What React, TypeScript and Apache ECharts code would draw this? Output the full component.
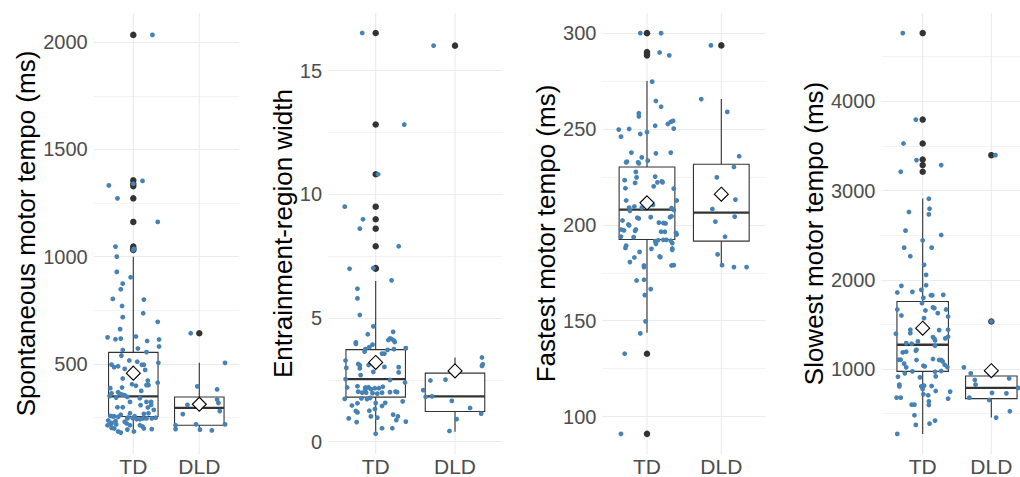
import React, { useEffect, useRef } from 'react';
import * as echarts from 'echarts';

// ---------- data ----------
const groups = ['TD', 'DLD'];
const yTitles = [
  'Spontaneous motor tempo (ms)',
  'Entrainment-region width',
  'Fastest motor tempo (ms)',
  'Slowest motor tempo (ms)',
];

// box stats per group: [lower whisker, Q1, median, Q3, upper whisker]
const smtBox = [[180, 255, 349, 554, 1000], [190, 214, 295, 346, 506]];
const erwBox = [[0.31, 1.8, 2.53, 3.72, 6.49], [0.4, 1.22, 1.83, 2.77, 3.4]];
const fmtBox = [[143.8, 192.4, 208.0, 230.2, 275.0], [178.0, 191.5, 206.4, 231.6, 265.6]];
const slmtBox = [[273, 974, 1272, 1757, 2912], [456, 668, 788, 922, 1019]];

// group means
const smtMean = [457, 312];
const erwMean = [3.2, 2.86];
const fmtMean = [211.5, 216.0];
const slmtMean = [1458, 981];

// outliers
const smtOutTD = [2034, 1356, 1340, 1329, 1272, 1162, 1047, 1037, 1031];
const smtOutDLD = [643];
const erwOutTD = [16.52, 12.82, 10.81, 9.5, 8.99, 8.61, 7.9, 7.02, 6.99];
const erwOutDLD = [16.01];
const fmtOutTD = [300, 290.1, 289.2, 288.4, 132.8, 91.0];
const fmtOutDLD = [293.6];
const slmtOutTD = [4764, 3795, 3527, 3348, 3285, 3210];
const slmtOutDLD = [3396, 1533];

// individual points: [horizontal jitter offset, value]
const smtTD = [
  [0.29, 2034], [-0.37, 1332], [0.14, 1353], [0.0, 1340], [-0.24, 1272], [0.37, 1162], [0.01, 1037], [0.0, 1031],
  [-0.27, 1047], [-0.25, 1000], [-0.25, 929], [-0.16, 874], [-0.19, 848], [-0.04, 904], [-0.31, 803], [0.16, 800],
  [-0.17, 770], [0.15, 736], [-0.16, 718], [0.37, 696], [-0.2, 662], [-0.39, 624], [-0.27, 615], [-0.19, 618],
  [0.04, 628], [0.21, 607], [0.39, 614], [0.39, 581], [-0.16, 565], [0.07, 572], [0.2, 555], [-0.18, 539],
  [-0.06, 516], [0.06, 510], [-0.33, 497], [-0.29, 485], [-0.23, 489], [-0.13, 477], [0.13, 496], [0.16, 496],
  [0.38, 505], [0.18, 472], [-0.16, 432], [0.22, 422], [-0.02, 405], [0.04, 398], [0.2, 401], [0.23, 401],
  [0.37, 412], [-0.35, 387], [-0.17, 390], [-0.33, 363], [-0.23, 368], [-0.2, 359], [-0.17, 357], [-0.13, 354],
  [0.12, 374], [-0.36, 350], [-0.26, 343], [-0.09, 346], [0.1, 340], [-0.05, 323], [0.2, 323], [0.27, 323],
  [0.27, 309], [-0.24, 298], [-0.16, 298], [0.11, 308], [0.22, 297], [0.31, 286], [0.16, 267], [0.23, 270],
  [-0.05, 270], [-0.29, 256], [-0.19, 263], [-0.35, 258], [-0.31, 255], [-0.23, 253], [0.02, 256], [-0.08, 250],
  [0.34, 249], [-0.38, 236], [-0.33, 225], [-0.27, 233], [-0.13, 230], [-0.09, 246], [-0.01, 247], [0.05, 242],
  [0.1, 242], [0.15, 246], [0.2, 246], [0.28, 246], [-0.39, 214], [-0.34, 218], [-0.26, 218], [-0.1, 222],
  [-0.05, 214], [0.1, 214], [0.14, 208], [-0.33, 202], [-0.29, 199], [-0.23, 185], [-0.19, 180], [-0.09, 194],
  [0.01, 185], [0.16, 199], [0.28, 196],
];
const smtDLD = [
  [-0.13, 643], [0.39, 505], [-0.03, 395], [0.27, 381], [-0.18, 309], [0.27, 334], [0.29, 318], [-0.25, 266],
  [0.31, 280], [-0.36, 214], [-0.36, 196], [-0.05, 218], [0.01, 194], [0.19, 190], [0.39, 218],
];

const erwTD = [
  [-0.17, 16.52], [0.36, 12.82], [0.03, 10.81], [-0.39, 9.5], [-0.16, 8.99], [-0.2, 8.61], [0.29, 7.9], [-0.33, 6.99],
  [-0.03, 7.02], [0.2, 6.52], [-0.23, 6.18], [-0.23, 5.79], [-0.2, 5.12], [-0.03, 4.66], [-0.1, 4.34], [0.22, 4.44],
  [0.18, 4.17], [0.2, 4.15], [0.23, 4.09], [0.16, 4.11], [0.24, 4.03], [-0.04, 3.92], [-0.25, 4.01], [-0.25, 3.95],
  [0.23, 3.74], [0.15, 3.71], [0.38, 3.78], [-0.13, 3.74], [-0.14, 3.64], [-0.08, 3.82], [0.08, 3.56], [0.11, 3.56],
  [-0.38, 3.28], [-0.37, 2.98], [-0.22, 3.14], [-0.2, 3.09], [-0.09, 3.1], [-0.2, 2.96], [0.03, 3.2], [0.11, 3.02],
  [0.29, 3.01], [0.29, 2.8], [-0.19, 2.69], [-0.03, 2.82], [-0.38, 2.53], [0.18, 2.49], [0.37, 2.39], [-0.36, 2.19],
  [-0.23, 2.24], [-0.13, 2.19], [-0.09, 2.2], [-0.13, 2.12], [-0.06, 2.12], [-0.01, 2.16], [0.04, 2.16], [0.09, 2.22],
  [-0.22, 2.02], [-0.17, 1.98], [-0.12, 1.98], [-0.04, 1.96], [0.08, 1.98], [0.18, 2.0], [0.25, 2.02], [0.27, 2.0],
  [-0.07, 1.77], [0.02, 1.94], [-0.39, 1.73], [-0.11, 1.72], [-0.18, 1.75], [-0.23, 1.55], [-0.3, 1.46], [0.12, 1.57],
  [0.0, 1.56], [-0.01, 1.32], [-0.25, 1.24], [-0.08, 1.25], [0.08, 1.44], [0.34, 1.63], [-0.23, 1.18], [-0.06, 1.02],
  [0.02, 0.97], [0.22, 1.09], [0.28, 1.02], [0.26, 0.87], [-0.34, 0.94], [-0.24, 0.79], [0.38, 0.81], [0.0, 0.32],
  [0.08, 0.54], [0.21, 0.54],
];
const erwDLD = [
  [-0.27, 16.01], [0.34, 3.4], [0.35, 3.13], [0.34, 3.06], [-0.31, 2.47], [-0.12, 2.51], [-0.4, 2.08], [-0.37, 1.81],
  [-0.29, 1.83], [-0.04, 1.65], [0.19, 1.36], [0.33, 1.13], [0.02, 0.91], [-0.07, 0.43],
];

const fmtTD = [
  [-0.09, 300], [0.19, 300], [0.17, 289.9], [0.3, 288.4], [0.07, 274.7], [0.11, 251.7], [0.12, 264.6], [0.19, 261.6],
  [-0.11, 258.2], [-0.11, 256.6], [-0.38, 249.7], [-0.24, 250.0], [-0.35, 246.0], [0.0, 248.4], [-0.09, 247.4],
  [0.28, 252.6], [0.32, 253.7], [0.35, 254.2], [0.36, 250.2], [-0.21, 237.7], [-0.27, 233.0], [-0.28, 232.6],
  [-0.12, 232.6], [-0.11, 232.1], [-0.07, 235.2], [0.01, 233.5], [0.12, 237.3], [0.32, 237.7], [-0.15, 227.6],
  [-0.14, 224.8], [0.11, 225.2], [0.14, 222.2], [0.2, 222.7], [0.21, 222.2], [-0.3, 223.3], [-0.29, 219.1],
  [-0.16, 221.9], [0.09, 220.1], [-0.28, 212.7], [0.36, 218.9], [0.4, 212.7], [-0.17, 209.6], [-0.07, 209.0],
  [0.02, 209.7], [0.08, 210.4], [-0.24, 209.0], [-0.23, 207.3], [0.33, 208.7], [0.36, 207.8], [-0.13, 203.7],
  [-0.11, 203.3], [0.05, 204.0], [-0.33, 202.3], [0.16, 201.2], [0.22, 201.0], [0.25, 200.7], [0.31, 204.0],
  [0.33, 204.5], [-0.25, 200.2], [-0.24, 199.7], [-0.35, 197.6], [-0.31, 197.1], [-0.15, 197.6], [-0.16, 196.9],
  [0.19, 196.4], [0.24, 196.4], [0.39, 195.8], [0.4, 195.0], [-0.35, 193.9], [-0.18, 193.6], [0.11, 191.5],
  [0.15, 192.0], [0.22, 192.2], [0.26, 192.2], [0.32, 191.7], [0.34, 190.5], [-0.28, 189.2], [-0.29, 188.0],
  [0.06, 187.5], [0.12, 190.1], [0.34, 187.7], [0.34, 187.0], [-0.1, 185.9], [0.17, 183.5], [0.18, 183.2],
  [-0.17, 183.0], [-0.23, 180.6], [0.33, 178.8], [0.36, 179.0], [-0.04, 178.8], [-0.04, 178.0], [-0.14, 171.0],
  [-0.04, 171.4], [0.05, 166.5], [-0.03, 163.4], [-0.02, 149.7], [-0.09, 143.4], [-0.3, 132.8], [-0.35, 91.0],
];
const fmtDLD = [
  [-0.14, 293.6], [-0.27, 265.6], [0.08, 258.9], [0.24, 235.8], [0.17, 230.2], [-0.06, 224.8], [0.19, 213.2],
  [-0.12, 208.3], [0.18, 204.3], [-0.08, 201.7], [0.05, 193.8], [-0.05, 184.6], [0.01, 179.0], [0.17, 178.0],
  [0.34, 178.0],
];

const slmtTD = [
  [-0.29, 4764], [-0.1, 3795], [-0.28, 3527], [-0.09, 3341], [-0.32, 3210], [0.27, 3285], [0.09, 2908], [0.1, 2796],
  [0.09, 2733], [-0.2, 2759], [-0.25, 2550], [0.27, 2502], [0.0, 2442], [-0.27, 2360], [0.13, 2360], [-0.18, 2264],
  [0.02, 2167], [0.05, 2055], [0.05, 1939], [-0.31, 1932], [-0.37, 1857], [-0.15, 1865], [-0.02, 1887], [0.01, 1798],
  [0.12, 1827], [0.14, 1827], [0.3, 1831], [-0.01, 1738], [0.15, 1690], [0.17, 1682], [-0.37, 1667], [0.04, 1656],
  [0.34, 1667], [0.37, 1589], [-0.31, 1600], [0.22, 1626], [0.02, 1570], [-0.18, 1440], [-0.18, 1403], [-0.39, 1395],
  [0.37, 1440], [0.24, 1436], [0.15, 1358], [0.17, 1339], [0.18, 1321], [0.33, 1343], [0.37, 1362], [-0.24, 1291],
  [-0.16, 1283], [-0.09, 1216], [-0.1, 1205], [-0.07, 1309], [-0.29, 1186], [-0.24, 1194], [0.18, 1261], [0.15, 1112],
  [0.24, 1101], [0.27, 1101], [0.29, 1086], [0.32, 1048], [0.36, 1022], [-0.32, 1104], [-0.35, 1104], [-0.27, 1060],
  [-0.09, 1101], [0.01, 1037], [0.03, 1030], [-0.24, 1019], [-0.26, 952], [-0.15, 974], [0.18, 970], [0.27, 978],
  [-0.36, 914], [-0.04, 907], [0.19, 918], [-0.34, 825], [-0.34, 806], [-0.02, 806], [0.02, 814], [0.0, 776],
  [0.13, 810], [0.19, 754], [0.01, 717], [0.08, 706], [0.4, 747], [-0.38, 679], [-0.32, 679], [0.09, 638],
  [0.37, 668], [-0.16, 601], [-0.12, 601], [0.09, 597], [-0.12, 482], [-0.1, 374], [0.1, 389], [0.18, 422],
  [-0.37, 273],
];
const slmtDLD = [
  [0.06, 3396], [0.0, 1533], [-0.4, 1019], [-0.3, 952], [-0.24, 877], [-0.23, 825], [0.26, 896], [0.39, 788],
  [-0.32, 679], [0.01, 732], [0.22, 728], [-0.03, 653], [0.27, 527], [0.07, 456],
];

// ---------- layout (pixels / axis extents) ----------
const panelLayout = [
  { left: 93.7, width: 145.2, yMin: 80, yMax: 2136, splitNumber: 5, nameGap: 55 },
  { left: 328.1, width: 174.5, yMin: -0.5, yMax: 17.33, splitNumber: 3, nameGap: 30 },
  { left: 602.4, width: 163.5, yMin: 80.5, yMax: 310.5, splitNumber: 5, nameGap: 33 },
  { left: 881.5, width: 151, yMin: 48, yMax: 4989, splitNumber: 5, nameGap: 49 },
];
const TOP = 13;
const HEIGHT = 442;
const FONT = '"Liberation Sans", Arial, Helvetica, sans-serif';

const panelData = [
  { box: smtBox, mean: smtMean, outTD: smtOutTD, outDLD: smtOutDLD, td: smtTD, dld: smtDLD },
  { box: erwBox, mean: erwMean, outTD: erwOutTD, outDLD: erwOutDLD, td: erwTD, dld: erwDLD },
  { box: fmtBox, mean: fmtMean, outTD: fmtOutTD, outDLD: fmtOutDLD, td: fmtTD, dld: fmtDLD },
  { box: slmtBox, mean: slmtMean, outTD: slmtOutTD, outDLD: slmtOutDLD, td: slmtTD, dld: slmtDLD },
];

const BOX_W = 0.75;
const LINE_COL = '#333333';
const GRID_COL = '#EBEBEB';

function renderVGrid(params: any, api: any) {
  const cs = params.coordSys;
  const px = api.coord([api.value(0), api.value(1)])[0];
  return {
    type: 'line',
    shape: { x1: px, y1: cs.y, x2: px, y2: cs.y + cs.height },
    style: { stroke: GRID_COL, lineWidth: 1.1 },
    silent: true,
  };
}

function renderBox(_params: any, api: any) {
  const x = api.value(0);
  const lo = api.value(1);
  const q1 = api.value(2);
  const med = api.value(3);
  const q3 = api.value(4);
  const hi = api.value(5);
  const pL = api.coord([x - BOX_W / 2, q3]);
  const pR = api.coord([x + BOX_W / 2, q1]);
  const pMed = api.coord([x, med]);
  const pLo = api.coord([x, lo]);
  const pHi = api.coord([x, hi]);
  const cx = pMed[0];
  const st = { stroke: LINE_COL, lineWidth: 1.1 };
  return {
    type: 'group',
    children: [
      { type: 'line', shape: { x1: cx, y1: pHi[1], x2: cx, y2: pL[1] }, style: st },
      { type: 'line', shape: { x1: cx, y1: pR[1], x2: cx, y2: pLo[1] }, style: st },
      {
        type: 'rect',
        shape: { x: pL[0], y: pL[1], width: pR[0] - pL[0], height: pR[1] - pL[1] },
        style: { fill: '#ffffff', stroke: LINE_COL, lineWidth: 1.1 },
      },
      { type: 'line', shape: { x1: pL[0], y1: pMed[1], x2: pR[0], y2: pMed[1] }, style: { stroke: LINE_COL, lineWidth: 2.3 } },
    ],
  };
}

function buildOption() {
  const grid: any[] = [];
  const xAxis: any[] = [];
  const yAxis: any[] = [];
  const series: any[] = [];
  panelLayout.forEach((L, i) => {
    const D = panelData[i];
    grid.push({ left: L.left, top: TOP, width: L.width, height: HEIGHT, containLabel: false });
    xAxis.push({
      type: 'value',
      gridIndex: i,
      min: 0.4,
      max: 2.6,
      interval: 0.2,
      axisLine: { show: false },
      axisTick: { show: false },
      splitLine: { show: false },
      axisLabel: {
        fontSize: 21,
        fontFamily: FONT,
        color: '#4D4D4D',
        margin: 2,
        formatter: (v: number) => {
          const k = Math.round(v);
          return Math.abs(v - k) < 1e-6 && k >= 1 && k <= groups.length ? groups[k - 1] : '';
        },
      },
    });
    yAxis.push({
      type: 'value',
      gridIndex: i,
      min: L.yMin,
      max: L.yMax,
      splitNumber: L.splitNumber,
      name: yTitles[i],
      nameLocation: 'middle',
      nameRotate: 90,
      nameGap: L.nameGap,
      nameTextStyle: { fontSize: 26, fontFamily: FONT, color: '#000000' },
      axisLine: { show: false },
      axisTick: { show: false },
      axisLabel: {
        fontSize: 20,
        fontFamily: FONT,
        color: '#4D4D4D',
        margin: 6,
        showMinLabel: false,
        showMaxLabel: false,
        formatter: (v: number) => String(v),
      },
      splitLine: { show: true, showMinLine: false, showMaxLine: false, lineStyle: { color: GRID_COL, width: 1.1 } },
      minorTick: { show: false, splitNumber: 2 },
      minorSplitLine: { show: true, lineStyle: { color: GRID_COL, width: 0.6 } },
    });
    series.push({
      type: 'custom',
      xAxisIndex: i,
      yAxisIndex: i,
      z: 1,
      silent: true,
      renderItem: renderVGrid,
      data: groups.map((_g, k) => [k + 1, L.yMin]),
    });
    series.push({
      type: 'custom',
      xAxisIndex: i,
      yAxisIndex: i,
      z: 2,
      silent: true,
      renderItem: renderBox,
      encode: { x: 0, y: [1, 2, 3, 4, 5] },
      data: D.box.map((b, k) => [k + 1, ...b]),
    });
    series.push({
      type: 'scatter',
      xAxisIndex: i,
      yAxisIndex: i,
      z: 3,
      silent: true,
      symbol: 'circle',
      symbolSize: 6.5,
      itemStyle: { color: LINE_COL, opacity: 1 },
      data: [...D.outTD.map((v) => [1, v]), ...D.outDLD.map((v) => [2, v])],
    });
    series.push({
      type: 'scatter',
      xAxisIndex: i,
      yAxisIndex: i,
      z: 4,
      silent: true,
      symbol: 'circle',
      symbolSize: 4.8,
      itemStyle: { color: '#4682B4', opacity: 1 },
      data: [...D.td.map((p) => [1 + p[0], p[1]]), ...D.dld.map((p) => [2 + p[0], p[1]])],
    });
    series.push({
      type: 'scatter',
      xAxisIndex: i,
      yAxisIndex: i,
      z: 5,
      silent: true,
      symbol: 'diamond',
      symbolSize: 14,
      itemStyle: { color: '#ffffff', borderColor: '#000000', borderWidth: 1.1, opacity: 1 },
      data: D.mean.map((v, k) => [k + 1, v]),
    });
  });
  return { animation: false, backgroundColor: '#ffffff', grid, xAxis, yAxis, series };
}

export default function App() {
  const ref = useRef<HTMLDivElement>(null);
  useEffect(() => {
    if (!ref.current) return;
    const chart = echarts.init(ref.current, undefined, { renderer: 'svg' });
    chart.setOption(buildOption() as any);
    return () => chart.dispose();
  }, []);
  return (
    <div style={{ position: 'fixed', left: 0, top: 0, width: 1020, height: 477, overflow: 'hidden', background: '#fff' }}>
      <div ref={ref} style={{ width: 1040, height: 477 }} />
    </div>
  );
}
